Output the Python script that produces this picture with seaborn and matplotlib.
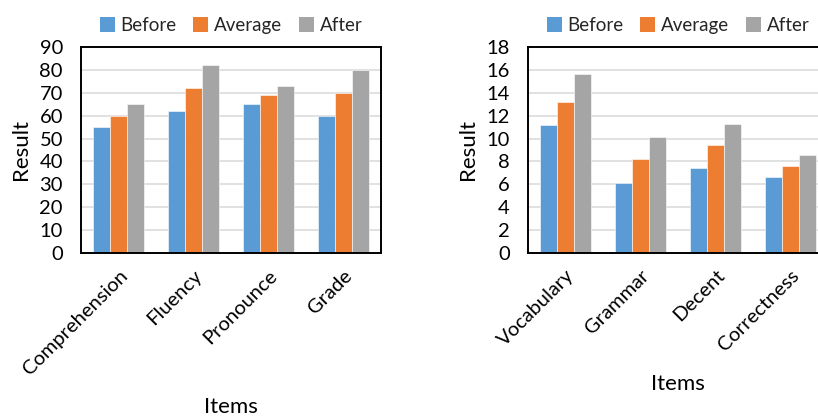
import matplotlib
matplotlib.use("Agg")
import matplotlib.pyplot as plt
import seaborn as sns
import pandas as pd
from matplotlib.patches import Patch

# Scores for the first skill group
items_left = ["Comprehension", "Fluency", "Pronounce", "Grade"]
before_left = [55, 62, 65, 60]
average_left = [60, 72, 69, 70]
after_left = [65, 82, 73, 80]

# Scores for the second skill group
items_right = ["Vocabulary", "Grammar", "Decent", "Correctness"]
before_right = [11.2, 6.1, 7.4, 6.6]
average_right = [13.2, 8.2, 9.4, 7.6]
after_right = [15.6, 10.1, 11.3, 8.6]

phases = ["Before", "Average", "After"]
colors = ["#5B9BD5", "#ED7D31", "#A5A5A5"]

left_ticks = list(range(0, 91, 10))
right_ticks = list(range(0, 19, 2))


def long_table(items, before, average, after):
    rows = []
    for series, vals in zip(phases, [before, average, after]):
        for it, v in zip(items, vals):
            rows.append({"Items": it, "Result": v, "Phase": series})
    return pd.DataFrame(rows)


sns.set_theme(style="white")
plt.rcParams["font.family"] = ["Lato", "DejaVu Sans"]

fig = plt.figure(figsize=(8.18, 4.18), dpi=100)
W, H = 818, 418
ax_l = fig.add_axes([81 / W, 1 - 253 / H, 300 / W, 206 / H])
ax_r = fig.add_axes([528 / W, 1 - 253 / H, 300 / W, 206 / H])

panels = [
    (ax_l, long_table(items_left, before_left, average_left, after_left), left_ticks),
    (ax_r, long_table(items_right, before_right, average_right, after_right), right_ticks),
]

for ax, df, ticks in panels:
    sns.barplot(data=df, x="Items", y="Result", hue="Phase", palette=colors,
                hue_order=phases, width=0.667, ax=ax, edgecolor="#ffffff",
                linewidth=0.4, legend=False, saturation=1, zorder=3)
    ax.set_ylim(ticks[0], ticks[-1])
    ax.set_yticks(ticks)
    ax.set_xlim(-0.5, 3.5)
    for t in ticks[1:-1]:
        ax.axhline(t, color="#D9D9D9", linewidth=1.1, zorder=1)
    for s in ax.spines.values():
        s.set_visible(True)
        s.set_color("black")
        s.set_linewidth(1.4)
        s.set_zorder(4)
    ax.tick_params(axis="y", length=0, pad=13, labelsize=14.5, colors="black")
    ax.tick_params(axis="x", length=0, pad=10, labelsize=14.5, colors="black")
    for lab in ax.get_xticklabels():
        lab.set_rotation(45)
        lab.set_ha("right")
        lab.set_va("top")
        lab.set_rotation_mode("anchor")
    ax.set_xlabel("Items", fontsize=16, color="black", labelpad=14)
    ax.set_ylabel("Result", fontsize=16, color="black", labelpad=6)
    handles = [Patch(facecolor=c, edgecolor="none", label=p) for c, p in zip(colors, phases)]
    ax.legend(handles=handles, loc="lower center", bbox_to_anchor=(0.5, 1.0),
              ncol=3, frameon=False, fontsize=13.5, handlelength=0.8,
              handleheight=0.8, handletextpad=0.3, columnspacing=0.9,
              borderaxespad=0.3)

fig.savefig("out.png", dpi=100)
